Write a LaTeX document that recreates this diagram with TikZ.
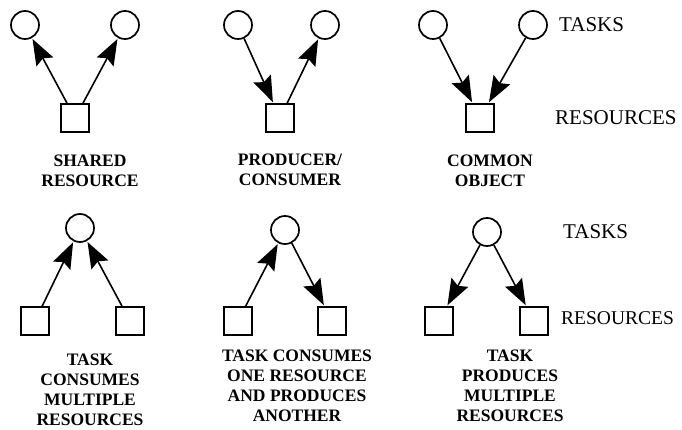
\documentclass[tikz,border=0pt]{standalone}
\usepackage{fontspec}
\setmainfont{Liberation Serif}
\usetikzlibrary{arrows.meta}
\begin{document}
\begin{tikzpicture}[x=1pt,y=-1pt,
  task/.style={draw,circle,line width=1.7pt,minimum size=28pt,inner sep=0pt},
  res/.style={draw,rectangle,line width=1.7pt,minimum size=28pt,inner sep=0pt},
  flow/.style={line width=1.6pt,shorten >=1pt,-{Stealth[length=26pt,width=19pt,inset=4pt]}},
  captxt/.style={align=center,font=\fontsize{17.5}{20}\selectfont\bfseries,inner sep=0pt},
  side/.style={anchor=west,font=\fontsize{21}{24}\selectfont,inner sep=0pt}]
\useasboundingbox (0,0) rectangle (682,430);
% panel 1: shared resource
\node[task] (a1) at (25,25) {};
\node[task] (a2) at (125,25) {};
\node[res]  (ar) at (75,118) {};
\draw[flow] (ar) -- (a1);
\draw[flow] (ar) -- (a2);
\node[captxt] (ac) at (90,171) {SHARED\\RESOURCE};
% panel 2: producer/consumer
\node[task] (b1) at (238,25) {};
\node[task] (b2) at (325,25) {};
\node[res]  (br) at (280,118) {};
\draw[flow] (b1) -- (br);
\draw[flow] (br) -- (b2);
\node[captxt] (bc) at (290,170) {PRODUCER/\\CONSUMER};
% panel 3: common object
\node[task] (c1) at (433,25) {};
\node[task] (c2) at (533,25) {};
\node[res]  (cr) at (480,118) {};
\draw[flow] (c1) -- (cr);
\draw[flow] (c2) -- (cr);
\node[captxt] (cc) at (490,171) {COMMON\\OBJECT};
\node[side] (t1) at (559,25) {TASKS};
\node[side] (r1) at (555,118) {RESOURCES};
% panel 4: task consumes multiple resources
\node[task] (d0) at (80,228) {};
\node[res]  (d1) at (35,321) {};
\node[res]  (d2) at (130,321) {};
\draw[flow] (d1) -- (d0);
\draw[flow] (d2) -- (d0);
\node[captxt] (dc) at (90,390) {TASK\\CONSUMES\\MULTIPLE\\RESOURCES};
% panel 5: consumes one, produces another
\node[task] (e0) at (285,230) {};
\node[res]  (e1) at (238,321) {};
\node[res]  (e2) at (332,321) {};
\draw[flow] (e1) -- (e0);
\draw[flow] (e0) -- (e2);
\node[captxt] (ec) at (297,386) {TASK CONSUMES\\ONE RESOURCE\\AND PRODUCES\\ANOTHER};
% panel 6: task produces multiple resources
\node[task] (f0) at (487,232) {};
\node[res]  (f1) at (439,321) {};
\node[res]  (f2) at (534,321) {};
\draw[flow] (f0) -- (f1);
\draw[flow] (f0) -- (f2);
\node[captxt] (fc) at (510,386) {TASK\\PRODUCES\\MULTIPLE\\RESOURCES};
\node[side] (t2) at (563,232) {TASKS};
\node[side] (r2) at (561,318) {\fontsize{19.5}{22}\selectfont RESOURCES};
\end{tikzpicture}
\end{document}
